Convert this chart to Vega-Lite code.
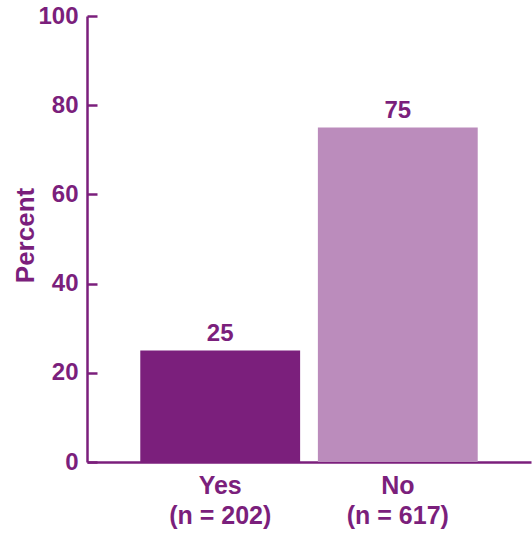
{
  "$schema": "https://vega.github.io/schema/vega-lite/v6.json",
  "width": 444,
  "height": 446,
  "autosize": "none",
  "padding": {"left": 87, "top": 16, "right": 1, "bottom": 71},
  "background": "white",
  "config": {
    "view": {"stroke": null},
    "font": "Liberation Sans"
  },
  "data": {
    "values": [
      {"group": "Yes|(n = 202)", "response": "Yes", "percent": 25},
      {"group": "No|(n = 617)", "response": "No", "percent": 75}
    ]
  },
  "layer": [
    {
      "mark": {"type": "bar"},
      "encoding": {
        "x": {
          "field": "group", "type": "nominal", "sort": null,
          "scale": {"paddingInner": 0.1, "paddingOuter": 0.3},
          "axis": {
            "title": null, "labelAngle": 0, "ticks": false,
            "labelExpr": "split(datum.label, '|')",
            "labelFont": "Liberation Sans", "labelFontSize": 25, "labelFontWeight": "bold",
            "labelColor": "#7B1F7C", "labelLineHeight": 30, "labelPadding": 11,
            "domainColor": "#7B1F7C", "domainWidth": 2.5
          }
        },
        "y": {
          "field": "percent", "type": "quantitative",
          "scale": {"domain": [0, 100]},
          "axis": {
            "title": "Percent", "values": [0, 20, 40, 60, 80, 100], "grid": false,
            "tickSize": -10, "tickWidth": 2.5, "tickColor": "#7B1F7C",
            "labelPadding": 19, "labelFontSize": 24, "labelFontWeight": "bold", "labelColor": "#7B1F7C",
            "labelFont": "Liberation Sans",
            "domainColor": "#7B1F7C", "domainWidth": 2.5,
            "titleFont": "Liberation Sans", "titleFontSize": 26, "titleFontWeight": "bold", "titleColor": "#7B1F7C",
            "titleX": -54, "titleY": 219, "titleBaseline": "alphabetic", "titleAngle": -90, "titleAlign": "center"
          }
        },
        "color": {
          "field": "response", "type": "nominal",
          "scale": {"domain": ["Yes", "No"], "range": ["#7B1F7C", "#BB8CBC"]},
          "legend": null
        }
      }
    },
    {
      "mark": {"type": "text", "dy": -10, "baseline": "alphabetic", "font": "Liberation Sans", "fontSize": 24, "fontWeight": "bold", "color": "#7B1F7C"},
      "encoding": {
        "x": {"field": "group", "type": "nominal", "sort": null},
        "y": {"field": "percent", "type": "quantitative"},
        "text": {"field": "percent", "type": "quantitative"}
      }
    }
  ]
}
